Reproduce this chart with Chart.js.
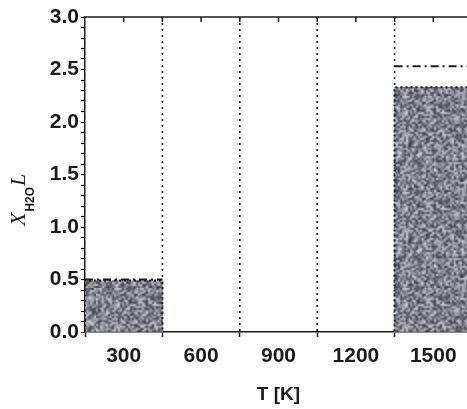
<!DOCTYPE html>
<html>
<head>
<meta charset="utf-8">
<script src="https://cdn.jsdelivr.net/npm/chart.js@4.4.1/dist/chart.umd.min.js"></script>
<style>
html, body { margin: 0; padding: 0; background: #fff; overflow: hidden; width: 467px; height: 409px; }
canvas { display: block; }
</style>
</head>
<body>
<canvas id="chart" width="472" height="409"></canvas>
<script>
// temperature bins (K) and X_H2O*L values
const temps = ['300', '600', '900', '1200', '1500'];
const xh2oL = [0.49, null, null, null, 2.33];
const limitL = [0.5, null, null, null, 2.53];

const ink = '#1a1a1a';

// grey speckled fill like the scanned original (deterministic noise)
function makeNoise() {
    const small = document.createElement('canvas');
    small.width = 48; small.height = 48;
    const sg = small.getContext('2d');
    const img = sg.createImageData(48, 48);
    let s = 12345;
    for (let i = 0; i < 48 * 48; i++) {
        s = (s * 1103515245 + 12345) & 0x7fffffff;
        const r = (s % 1000) / 1000;
        const v = Math.round(55 + r * 150);
        img.data[i * 4] = v;
        img.data[i * 4 + 1] = v + 2;
        img.data[i * 4 + 2] = v + 12;
        img.data[i * 4 + 3] = 255;
    }
    sg.putImageData(img, 0, 0);
    const c = document.createElement('canvas');
    c.width = 96; c.height = 96;
    const g = c.getContext('2d');
    g.imageSmoothingEnabled = true;
    g.drawImage(small, 0, 0, 96, 96);
    return g.createPattern(c, 'repeat');
}
const noise = makeNoise();

const decor = {
    id: 'decor',
    beforeDatasetsDraw(chart) {
        const ctx = chart.ctx;
        const x = chart.scales.x;
        const a = chart.chartArea;
        const half = (x.getPixelForValue(1) - x.getPixelForValue(0)) / 2;
        ctx.save();
        ctx.strokeStyle = ink;
        ctx.lineWidth = 1.6;
        ctx.setLineDash([2, 4]);
        for (let i = 0; i < temps.length - 1; i++) {
            const px = x.getPixelForValue(i) + half;
            ctx.beginPath();
            ctx.moveTo(px, a.top);
            ctx.lineTo(px, a.bottom);
            ctx.stroke();
        }
        ctx.restore();
    },
    afterDatasetsDraw(chart) {
        const ctx = chart.ctx;
        const y = chart.scales.y;
        const x = chart.scales.x;
        const a = chart.chartArea;
        const meta = chart.getDatasetMeta(0);
        ctx.save();
        meta.data.forEach((bar, i) => {
            if (xh2oL[i] == null) return;
            const p = bar.getProps(['x', 'y', 'base', 'width'], true);
            const l = p.x - p.width / 2, r = p.x + p.width / 2;
            ctx.strokeStyle = ink;
            ctx.lineWidth = 2;
            ctx.setLineDash([2, 3]);
            ctx.beginPath();
            ctx.moveTo(l, p.base);
            ctx.lineTo(l, p.y);
            ctx.lineTo(r, p.y);
            ctx.lineTo(r, p.base);
            ctx.stroke();
            if (limitL[i] != null) {
                const ly = y.getPixelForValue(limitL[i]);
                ctx.setLineDash([8, 4, 2, 4]);
                ctx.lineWidth = 2;
                ctx.beginPath();
                ctx.moveTo(l, ly);
                ctx.lineTo(r, ly);
                ctx.stroke();
            }
        });
        // top frame with inward ticks
        const half = (x.getPixelForValue(1) - x.getPixelForValue(0)) / 2;
        ctx.setLineDash([]);
        ctx.lineWidth = 1.5;
        ctx.beginPath();
        ctx.moveTo(a.left, a.top);
        ctx.lineTo(a.right, a.top);
        ctx.stroke();
        for (let i = 0; i < temps.length; i++) {
            [x.getPixelForValue(i), x.getPixelForValue(i) + half].forEach(px => {
                ctx.beginPath();
                ctx.moveTo(px, a.top);
                ctx.lineTo(px, a.top + 5);
                ctx.stroke();
            });
        }
        ctx.restore();
    },
    afterDraw(chart) {
        // y title: X_H2O L, rotated
        const ctx = chart.ctx;
        ctx.save();
        ctx.translate(25, 226);
        ctx.rotate(-Math.PI / 2);
        ctx.fillStyle = ink;
        ctx.textBaseline = 'alphabetic';
        ctx.font = 'italic 22px "Liberation Serif"';
        ctx.fillText('X', 0, 0);
        let w = ctx.measureText('X').width;
        ctx.font = 'bold 12px "Liberation Sans"';
        ctx.fillText('H2O', w + 1, 9);
        w += ctx.measureText('H2O').width + 2;
        ctx.font = 'italic 22px "Liberation Serif"';
        ctx.fillText('L', w, 0);
        ctx.restore();
    }
};

new Chart(document.getElementById('chart'), {
    type: 'bar',
    data: {
        labels: temps,
        datasets: [{
            data: xh2oL,
            backgroundColor: noise,
            borderWidth: 0,
            barPercentage: 1,
            categoryPercentage: 1
        }]
    },
    options: {
        responsive: false,
        animation: false,
        layout: { padding: { top: 17, left: 0, right: 0, bottom: 0 } },
        plugins: {
            legend: { display: false },
            tooltip: { enabled: false }
        },
        scales: {
            x: {
                offset: true,
                afterFit(scale) { scale.height = 77; },
                grid: { drawOnChartArea: false, tickLength: 5, tickColor: ink, tickWidth: 1.5 },
                border: { color: ink, width: 1.5 },
                ticks: {
                    color: ink,
                    padding: 7,
                    font: { family: '"Liberation Sans"', size: 21, weight: 'bold' }
                },
                title: {
                    display: true,
                    text: 'T [K]',
                    color: ink,
                    padding: { top: 0, bottom: 3 },
                    font: { family: '"Liberation Sans"', size: 19, weight: 'bold' }
                }
            },
            y: {
                min: 0,
                max: 3,
                afterFit(scale) { scale.width = 85; },
                grid: { drawOnChartArea: false, tickLength: 4, tickColor: ink, tickWidth: 1.2 },
                border: { color: ink, width: 1.5 },
                ticks: {
                    stepSize: 0.1,
                    autoSkip: false,
                    color: ink,
                    padding: 2,
                    font: { family: '"Liberation Sans"', size: 21, weight: 'bold' },
                    callback(v) {
                        const d = v * 2;
                        return Math.abs(d - Math.round(d)) < 1e-6 ? v.toFixed(1) : '';
                    }
                }
            }
        }
    },
    plugins: [decor]
});
</script>
</body>
</html>
